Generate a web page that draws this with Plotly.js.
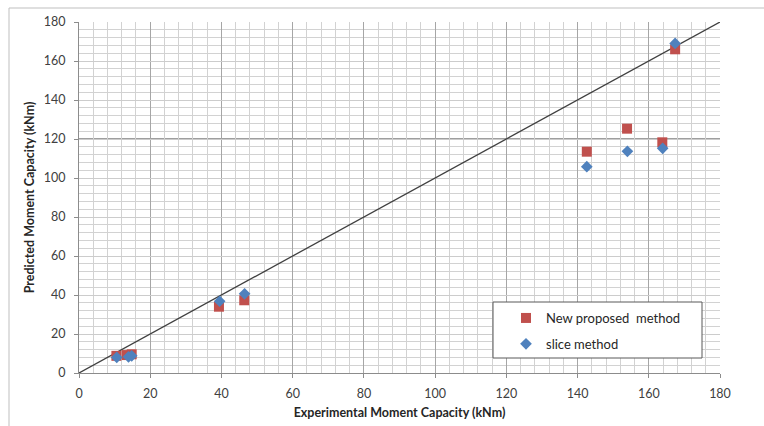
<!DOCTYPE html>
<html>
<head>
<meta charset="utf-8">
<script src="https://cdn.plot.ly/plotly-3.0.1.min.js"></script>
<style>html,body{margin:0;padding:0;background:#fff;}#chart{width:764px;height:426px;}</style>
</head>
<body>
<div id="chart"></div>
<script>
// Data
const newExp  = [10.5, 13.4, 14.8, 39.3, 46.4, 142.6, 153.9, 163.8, 167.4];
const newPred = [8.8, 9.2, 9.6, 34.0, 37.3, 113.5, 125.3, 118.3, 166.0];
const sliceExp  = [10.6, 13.9, 14.8, 39.5, 46.5, 142.6, 154.0, 163.9, 167.4];
const slicePred = [8.0, 8.3, 8.8, 36.8, 40.6, 105.8, 113.7, 115.2, 169.0];
const refX = [0, 180];
const refY = [0, 180];
const axisRange = [0, 180];
const majorStep = 20;
const minorStep = 4;
const names = ['New proposed  method', 'slice method'];

const font = 'Lato, "Open Sans", "DejaVu Sans", sans-serif';
const px = v => (v - 79) / 641;      // pixel x -> paper
const py = v => (373 - v) / 351;     // pixel y -> paper

const traces = [
  {x: refX, y: refY, mode: 'lines', type: 'scatter', showlegend: false,
   line: {color: '#404040', width: 1.3}, hoverinfo: 'skip'},
  {x: newExp, y: newPred, mode: 'markers', type: 'scatter', name: names[0], legendgroup: 'a',
   marker: {symbol: 'square', size: 10, color: '#c0504d'}},
  {x: sliceExp, y: slicePred, mode: 'markers', type: 'scatter', name: names[1], legendgroup: 'b',
   marker: {symbol: 'diamond', size: 9, color: '#4f81bd'}}
];

const axisCommon = {
  range: axisRange, tickmode: 'linear', tick0: 0, dtick: majorStep,
  showgrid: true, gridcolor: '#a6a6a6', gridwidth: 1,
  minor: {tickmode: 'linear', tick0: 0, dtick: minorStep, showgrid: true, gridcolor: '#d2d2d2', gridwidth: 1},
  zeroline: false, showline: true, linecolor: '#8c8c8c', linewidth: 1,
  ticks: 'outside', ticklen: 4, tickcolor: '#8c8c8c',
  tickfont: {family: font, size: 12.5, color: '#404040'},
  fixedrange: true
};

const layout = {
  width: 764, height: 426,
  margin: {l: 79, r: 44, t: 22, b: 53, pad: 0},
  paper_bgcolor: '#ffffff', plot_bgcolor: '#ffffff',
  font: {family: font, color: '#404040'},
  showlegend: true,
  xaxis: Object.assign({}, axisCommon, {
    ticklabelstandoff: 5,
    title: {text: '<b>Experimental Moment Capacity (kNm)</b>', font: {family: font, size: 12.5, color: '#262626'}, standoff: 8}
  }),
  yaxis: Object.assign({}, axisCommon, {
    gridcolor: '#cccccc',
    ticklabelstandoff: 6,
    title: {text: '<b>Predicted Moment Capacity (kNm)</b>', font: {family: font, size: 12.5, color: '#262626'}, standoff: 6}
  }),
  legend: {
    x: px(506), y: py(303), xanchor: 'left', yanchor: 'top',
    bgcolor: 'rgba(0,0,0,0)', borderwidth: 0,
    font: {family: font, size: 13, color: '#262626'},
    traceorder: 'grouped', tracegroupgap: 6
  },
  shapes: [
    {type: 'line', xref: 'paper', yref: 'y', x0: 0, x1: 1, y0: 120, y1: 120,
     line: {color: '#7f7f7f', width: 1.6}, layer: 'below'},
    {type: 'rect', xref: 'paper', yref: 'paper', x0: px(493), x1: px(702), y0: py(358), y1: py(302),
     line: {color: '#595959', width: 1}, fillcolor: '#ffffff', layer: 'above'},
    {type: 'rect', xref: 'paper', yref: 'paper', x0: px(9), x1: px(775), y0: py(440), y1: py(8),
     line: {color: '#bfbfbf', width: 1}, fillcolor: 'rgba(0,0,0,0)', layer: 'below'}
  ]
};

Plotly.newPlot('chart', traces, layout, {displayModeBar: false, staticPlot: true});
</script>
</body>
</html>
